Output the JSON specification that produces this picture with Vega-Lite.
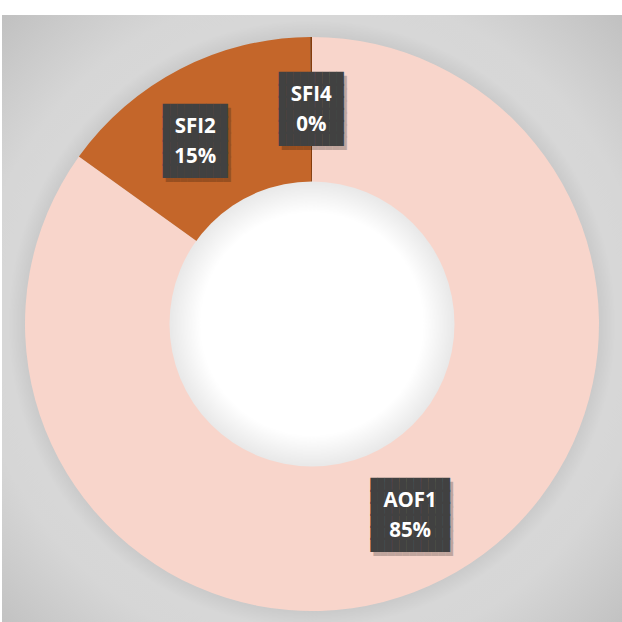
{
  "$schema": "https://vega.github.io/schema/vega-lite/v6.json",
  "autosize": {"type": "none"},
  "width": 620,
  "height": 618,
  "padding": {"left": 2, "top": 15, "right": 0, "bottom": -11},
  "background": "#ffffff",
  "config": {"view": {"stroke": null, "fill": "#c6c6c6"}},
  "data": {
    "values": [
      {"cat": "AOF1", "v": 85, "pct": "85%"},
      {"cat": "SFI2", "v": 15, "pct": "15%"},
      {"cat": "SFI4", "v": 0.1, "pct": "0%"}
    ]
  },
  "layer": [
    {
      "data": {"values": [{"panel": "background"}]},
      "mark": {
        "type": "arc",
        "clip": true,
        "theta": 0,
        "theta2": 6.2832,
        "outerRadius": 440,
        "innerRadius": 0,
        "fill": {
          "gradient": "radial",
          "x1": 0.5, "y1": 0.5, "r1": 0,
          "x2": 0.5, "y2": 0.5, "r2": 0.5,
          "stops": [
            {"offset": 0, "color": "#cccccc"},
            {"offset": 0.645, "color": "#c8c8c8"},
            {"offset": 0.69, "color": "#d7d7d7"},
            {"offset": 0.76, "color": "#d6d6d6"},
            {"offset": 1, "color": "#c0c0c0"}
          ]
        }
      },
      "encoding": {}
    },
    {
      "mark": {"type": "arc", "outerRadius": 287, "innerRadius": 140, "stroke": null},
      "encoding": {
        "theta": {"field": "v", "type": "quantitative", "stack": true},
        "color": {
          "field": "cat",
          "type": "nominal",
          "scale": {"domain": ["AOF1", "SFI2", "SFI4"], "range": ["#f8d5cb", "#c4662a", "#843c0c"]},
          "legend": null
        }
      }
    },
    {
      "data": {"values": [{"hole": "center"}]},
      "mark": {
        "type": "arc",
        "theta": 0,
        "theta2": 6.2832,
        "outerRadius": 142.5,
        "innerRadius": 0,
        "fill": {
          "gradient": "radial",
          "x1": 0.5, "y1": 0.5, "r1": 0,
          "x2": 0.5, "y2": 0.5, "r2": 0.5,
          "stops": [
            {"offset": 0, "color": "#ffffff"},
            {"offset": 0.78, "color": "#ffffff"},
            {"offset": 1, "color": "#e8e8e8"}
          ]
        }
      },
      "encoding": {}
    },
    {
      "mark": {
        "type": "text", "radius": 215, "font": "DejaVu Sans Mono", "fontSize": 12, "lineHeight": 12,
        "color": "#000000", "dx": 3, "dy": -26, "baseline": "middle", "align": "center"
      },
      "encoding": {
        "theta": {"field": "v", "type": "quantitative", "stack": true},
        "detail": {"field": "cat", "type": "nominal"},
        "opacity": {"condition": {"test": "datum.cat === 'SFI2'", "value": 0}, "value": 0.22},
        "text": {
          "condition": {
            "test": "datum.cat === 'AOF1'",
            "value": ["███████████", "███████████", "███████████", "███████████", "███████████", "███████████"]
          },
          "value": ["█████████", "█████████", "█████████", "█████████", "█████████", "█████████"]
        }
      }
    },
    {
      "mark": {
        "type": "text", "radius": 215, "font": "DejaVu Sans Mono", "fontSize": 12, "lineHeight": 12,
        "color": "#414141", "dy": -30, "baseline": "middle", "align": "center"
      },
      "encoding": {
        "theta": {"field": "v", "type": "quantitative", "stack": true},
        "detail": {"field": "cat", "type": "nominal"},
        "opacity": {"condition": {"test": "datum.cat === 'SFI2'", "value": 0}, "value": 1},
        "text": {
          "condition": {
            "test": "datum.cat === 'AOF1'",
            "value": ["███████████", "███████████", "███████████", "███████████", "███████████", "███████████"]
          },
          "value": ["█████████", "█████████", "█████████", "█████████", "█████████", "█████████"]
        }
      }
    },
    {
      "transform": [{"calculate": "[datum.cat, datum.pct]", "as": "lbl"}],
      "mark": {
        "type": "text", "radius": 215, "font": "Open Sans", "fontWeight": "bold", "fontSize": 20.5,
        "lineHeight": 30, "color": "#ffffff", "dy": -14, "baseline": "middle", "align": "center"
      },
      "encoding": {
        "theta": {"field": "v", "type": "quantitative", "stack": true},
        "detail": {"field": "cat", "type": "nominal"},
        "opacity": {"condition": {"test": "datum.cat === 'SFI2'", "value": 0}, "value": 1},
        "text": {"field": "lbl", "type": "nominal"}
      }
    },
    {
      "mark": {
        "type": "text", "radius": 215, "font": "DejaVu Sans Mono", "fontSize": 12, "lineHeight": 12,
        "color": "#000000", "dx": -15, "dy": -18, "baseline": "middle", "align": "center"
      },
      "encoding": {
        "theta": {"field": "v", "type": "quantitative", "stack": true},
        "detail": {"field": "cat", "type": "nominal"},
        "opacity": {"condition": {"test": "datum.cat === 'SFI2'", "value": 0.22}, "value": 0},
        "text": {"value": ["█████████", "█████████", "█████████", "█████████", "█████████", "█████████"]}
      }
    },
    {
      "mark": {
        "type": "text", "radius": 215, "font": "DejaVu Sans Mono", "fontSize": 12, "lineHeight": 12,
        "color": "#414141", "dx": -18, "dy": -22, "baseline": "middle", "align": "center"
      },
      "encoding": {
        "theta": {"field": "v", "type": "quantitative", "stack": true},
        "detail": {"field": "cat", "type": "nominal"},
        "opacity": {"condition": {"test": "datum.cat === 'SFI2'", "value": 1}, "value": 0},
        "text": {"value": ["█████████", "█████████", "█████████", "█████████", "█████████", "█████████"]}
      }
    },
    {
      "transform": [{"calculate": "[datum.cat, datum.pct]", "as": "lbl"}],
      "mark": {
        "type": "text", "radius": 215, "font": "Open Sans", "fontWeight": "bold", "fontSize": 20.5,
        "lineHeight": 30, "color": "#ffffff", "dx": -18, "dy": -6, "baseline": "middle", "align": "center"
      },
      "encoding": {
        "theta": {"field": "v", "type": "quantitative", "stack": true},
        "detail": {"field": "cat", "type": "nominal"},
        "opacity": {"condition": {"test": "datum.cat === 'SFI2'", "value": 1}, "value": 0},
        "text": {"field": "lbl", "type": "nominal"}
      }
    }
  ]
}
